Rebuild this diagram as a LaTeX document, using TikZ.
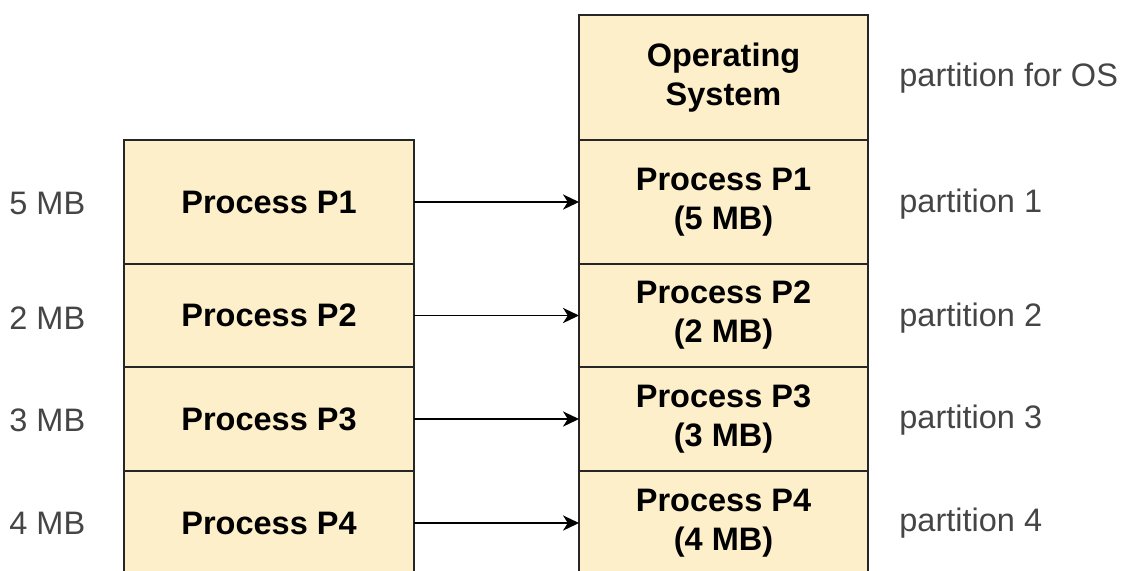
\documentclass[tikz,border=0pt]{standalone}
\usepackage{fontspec}
\setmainfont{Liberation Sans}
\usetikzlibrary{arrows.meta}
\definecolor{memfill}{HTML}{FCEFCA}
\definecolor{memline}{HTML}{262626}
\definecolor{labelgray}{HTML}{454545}
\begin{document}
\begin{tikzpicture}[x=0.5pt,y=-0.5pt,
  cell/.style={draw=memline, fill=memfill, line width=1pt, anchor=north west,
    inner sep=0pt, outer sep=0pt, align=center, text=black,
    font=\bfseries\fontsize{16.25}{19.5}\selectfont},
  lcell/.style={cell, minimum width=145pt},
  rcell/.style={cell, minimum width=144.5pt},
  sizelabel/.style={anchor=west, inner sep=0pt, text=labelgray,
    font=\fontsize{16.25}{19.5}\selectfont},
  move/.style={-{Stealth[length=8pt,width=7.6pt,inset=2.4pt]}, line width=0.9pt, draw=black}]
\useasboundingbox (0,0) rectangle (1125,570);
\clip (0,0) rectangle (1125,570);

% processes waiting to be loaded
\node[lcell, minimum height=62pt]   (l1) at (124,140) {Process P1};
\node[lcell, minimum height=51.5pt] (l2) at (124,264) {Process P2};
\node[lcell, minimum height=52pt]   (l3) at (124,367) {Process P3};
\node[lcell, minimum height=52pt]   (l4) at (124,471) {Process P4};

% main memory split into fixed partitions
\node[rcell, minimum height=62.5pt] (r0) at (579,15)  {Operating\\System};
\node[rcell, minimum height=62pt]   (r1) at (579,140) {Process P1\\(5 MB)};
\node[rcell, minimum height=51.5pt] (r2) at (579,264) {Process P2\\(2 MB)};
\node[rcell, minimum height=52pt]   (r3) at (579,367) {Process P3\\(3 MB)};
\node[rcell, minimum height=52pt]   (r4) at (579,471) {Process P4\\(4 MB)};

% process sizes
\node[sizelabel] (s1) at (9,203) {5 MB};
\node[sizelabel] (s2) at (9,318) {2 MB};
\node[sizelabel] (s3) at (9,420) {3 MB};
\node[sizelabel] (s4) at (9,523) {4 MB};

% partition names
\node[sizelabel] (p0) at (899,78)  {partition for OS};
\node[sizelabel] (p1) at (899,204) {partition 1};
\node[sizelabel] (p2) at (899,318) {partition 2};
\node[sizelabel] (p3) at (899,420) {partition 3};
\node[sizelabel] (p4) at (899,523) {partition 4};

% allocation
\draw[move] (l1.east) -- (r1.west);
\draw[move] (l2.east) -- (r2.west);
\draw[move] (l3.east) -- (r3.west);
\draw[move] (l4.east) -- (r4.west);
\end{tikzpicture}
\end{document}
